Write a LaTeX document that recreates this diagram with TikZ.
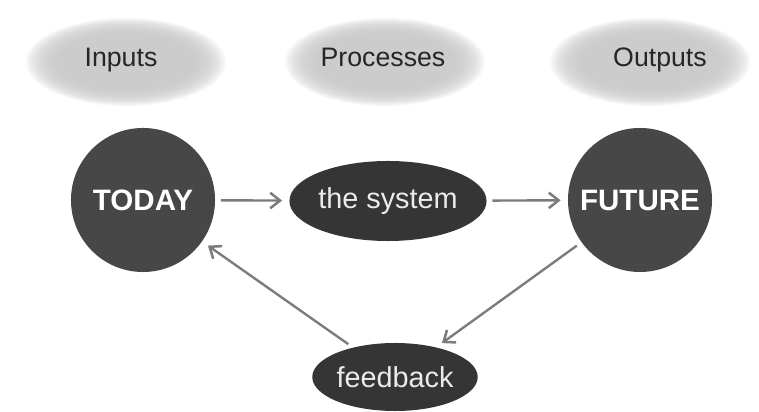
\documentclass[tikz,border=0pt]{standalone}
\usepackage{fontspec}
\setmainfont{Liberation Sans}
\usetikzlibrary{shapes.geometric,arrows.meta}
\definecolor{stagegray}{HTML}{474747}
\definecolor{ovalgray}{HTML}{353535}
\definecolor{haze}{HTML}{C6C6C6}
\definecolor{flowgray}{HTML}{7C7C7C}
\begin{document}
\begin{tikzpicture}[x=0.025cm, y=-0.025cm,
    stage/.style={circle, fill=stagegray, text=white, minimum size=3.6cm,
        inner sep=0pt, font=\fontsize{21}{25}\selectfont\bfseries},
    oval/.style={ellipse, fill=ovalgray, text=white!92!black, minimum width=4.7cm,
        minimum height=2cm, inner sep=0pt, font=\fontsize{20.5}{24}\selectfont},
    heading/.style={anchor=base, text=black!85, font=\fontsize{19}{23}\selectfont},
    flow/.style={-{Straight Barb[length=7pt, width=11pt, line width=1.8pt]}, flowgray,
        line width=1.7pt, shorten <=4pt, shorten >=5pt}]
    \useasboundingbox (0,0) rectangle (759,412);

    % Soft heading blobs
    \foreach \cx in {126,385,650}
        \foreach \k in {0,...,15}
            \fill[haze, opacity=0.13] (\cx,62) ellipse ({100-\k*2} and {44-\k*1});

    % Headings
    \node[heading] (inputs) at (121,67) {Inputs};
    \node[heading] (processes) at (383,67) {Processes};
    \node[heading] (outputs) at (660,67) {Outputs};

    % Main loop
    \node[stage] (today) at (143,200) {TODAY};
    \node[oval] (system) at (388,201) {the system};
    \node[stage] (future) at (640,200) {FUTURE};
    \node[oval, minimum width=4.1cm, minimum height=1.7cm] (feedback) at (395,377) {feedback};

    \draw[flow] (today) -- (system);
    \draw[flow] (system) -- (future);
    \draw[flow] (future) -- (feedback);
    \draw[flow] (feedback) -- (today);
\end{tikzpicture}
\end{document}
